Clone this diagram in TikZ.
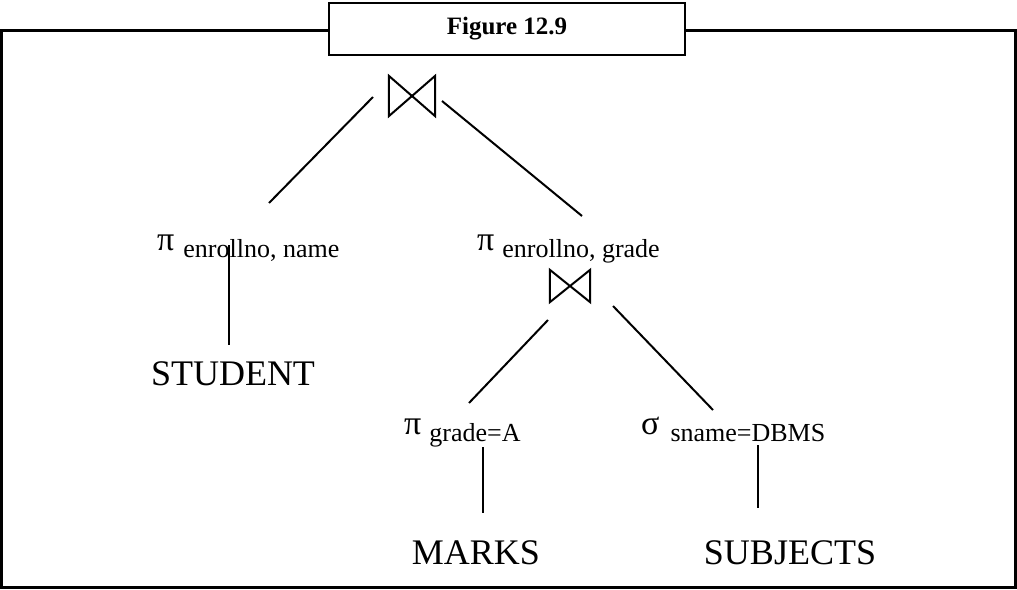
\documentclass[tikz,border=0pt]{standalone}
\usepackage{fontspec}
\setmainfont{Liberation Serif}

% operator symbol and its lowered subscript
\newcommand{\relop}[1]{{\fontsize{34}{34}\selectfont #1}}
\newcommand{\relsub}[1]{\raisebox{-7pt}{\fontsize{26}{26}\selectfont #1}}

\begin{document}
\begin{tikzpicture}[x=1pt,y=-1pt]

    \tikzset{
        edge/.style={line width=2pt},
        joinop/.style={inner sep=0pt},
        oplabel/.style={anchor=base west, inner sep=0pt},
        relname/.style={anchor=base, inner sep=0pt, font=\fontsize{36}{36}\selectfont}
    }

    \useasboundingbox (0,0) rectangle (1017,589);

    % Outer frame, the caption box sits on its top edge
    \draw[line width=2.5pt] (1.5,30.5) rectangle (1015.5,587.5);
    \node (title) [draw, fill=white, line width=2.5pt, inner sep=0pt,
        minimum width=356pt, minimum height=52pt,
        font=\fontsize{25}{25}\selectfont\bfseries] at (507,29) {Figure 12.9};

    % Join operators: drawn as bow ties inside empty nodes
    \node (join1) [joinop, minimum width=46pt, minimum height=40pt] at (412,96) {};
    \node (join2) [joinop, minimum width=40pt, minimum height=32pt] at (570,286) {};
    \foreach \j in {join1,join2}
        \draw[edge] (\j.north west) -- (\j.south west) -- (\j.north east) -- (\j.south east) -- cycle;

    % Projections and the selection
    \node (projname) [oplabel] at (157,250) {\relop{π}\hspace{9pt}\relsub{enrollno, name}};
    \node (projgrade) [oplabel] at (477,250) {\relop{π}\hspace{8pt}\relsub{enrollno, grade}};
    \node (projmarks) [oplabel] at (404,434) {\relop{π}\hspace{8pt}\relsub{grade=A}};
    \node (seldbms) [oplabel] at (641,434) {\relop{σ}\hspace{11pt}\relsub{sname=DBMS}};

    % Base relations
    \node (student) [relname] at (233,385) {STUDENT};
    \node (marks) [relname] at (476,564) {MARKS};
    \node (subjects) [relname] at (790,564) {SUBJECTS};

    % End points of the tree edges (they stop short of the labels)
    \coordinate (join1l) at (373,97);   \coordinate (projnameT) at (269,203);
    \coordinate (join1r) at (442,101);  \coordinate (projgradeT) at (582,216);
    \coordinate (projnameB) at (229,245); \coordinate (studentT) at (229,345);
    \coordinate (join2l) at (548,320);  \coordinate (projmarksT) at (469,403);
    \coordinate (join2r) at (613,306);  \coordinate (seldbmsT) at (713,410);
    \coordinate (projmarksB) at (483,447); \coordinate (marksT) at (483,513);
    \coordinate (seldbmsB) at (758,445); \coordinate (subjectsT) at (758,508);

    % Tree edges
    \draw[edge] (join1l) -- (projnameT);
    \draw[edge] (join1r) -- (projgradeT);
    \draw[edge] (projnameB) -- (studentT);
    \draw[edge] (join2l) -- (projmarksT);
    \draw[edge] (join2r) -- (seldbmsT);
    \draw[edge] (projmarksB) -- (marksT);
    \draw[edge] (seldbmsB) -- (subjectsT);

\end{tikzpicture}
\end{document}
